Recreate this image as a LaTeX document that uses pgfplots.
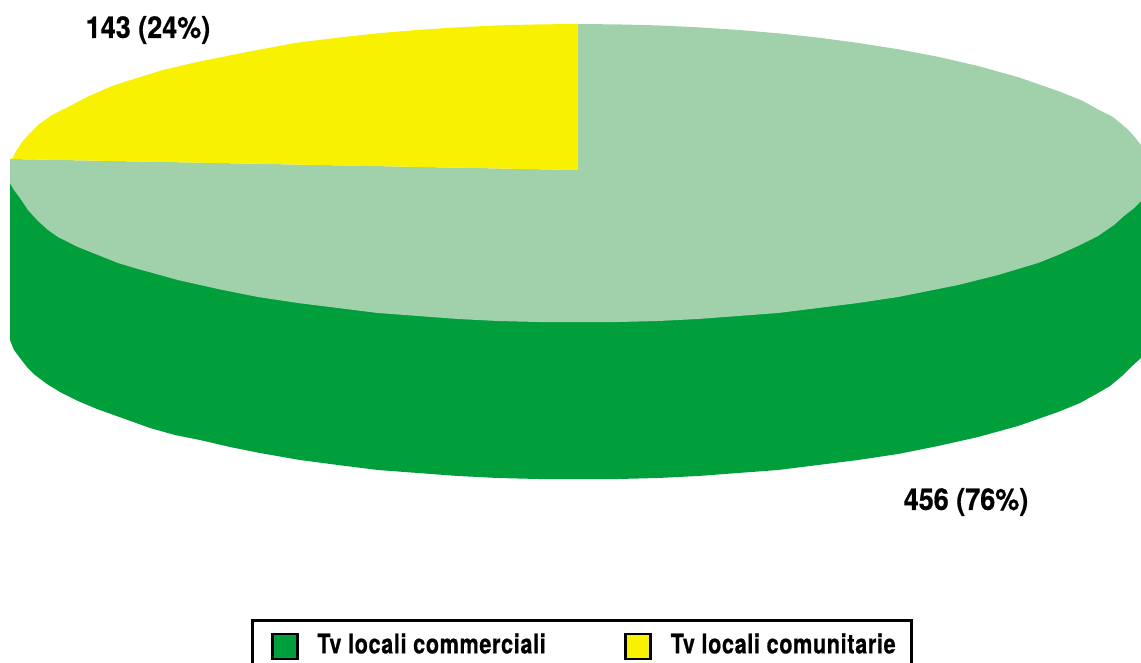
\documentclass[border=0pt]{standalone}
\usepackage{pgfplots}
\pgfplotsset{compat=1.18}
\usepackage{fontspec}
\setmainfont{TeX Gyre Heros}[BoldFeatures={FakeStretch=0.80,LetterSpace=2.4,FakeBold=0.6}]
\newfontfamily\labelfont{TeX Gyre Heros Bold}[FakeStretch=0.90,FakeBold=0.6]
\definecolor{gdark}{RGB}{0,159,60}
\definecolor{glight}{RGB}{160,209,171}
\definecolor{yel}{RGB}{248,242,0}
\begin{document}
\begin{tikzpicture}
\useasboundingbox (0,0) rectangle (1141pt,662pt);
\begin{axis}[
  at={(0,0)}, anchor=south west,
  scale only axis, width=1141pt, height=662pt,
  xmin=0, xmax=1141, ymin=0, ymax=662, y dir=reverse,
  hide axis, clip=true,
  legend columns=2,
  legend cell align=left,
  legend image code/.code={\draw[#1,draw=black,line width=2.8pt] (0pt,-15pt) rectangle (25pt,10pt); \path (-6pt,0pt) (43pt,0pt);},
  legend style={
    at={(0.22,0.065)}, anchor=north west,
    draw=black, line width=2.6pt,
    font=\fontsize{27}{30}\selectfont\bfseries,
    inner xsep=14pt, inner ysep=11pt,
    /tikz/every odd column/.append style={column sep=0pt},
    /tikz/every even column/.append style={column sep=72pt},
    nodes={inner xsep=2pt}
  },
]
\addplot[draw=none, fill=gdark] coordinates {
(10,183)(10,340)(14,350)(20,358)(27,367)(35,375)(47,384)(60,392)(78,401)(97,409)(125,419)(150,428)(175,435)(200,440)(230,447)(260,453)(300,460)(338,465)(378,470)(418,473)(458,476)(498,478)(538,479)(578,479)(618,479)(658,478)(698,476)(738,473)(778,470)(818,465)(858,460)(898,454)(938,446)(978,437)(1018,426)(1038,419)(1058,412)(1080,403)(1098,393)(1110,386)(1122,376)(1131,367)(1141,358)(1141,201)(578,200)(10,183)};
\addlegendentry{Tv locali commerciali}
\addplot[draw=none, fill=glight, forget plot] coordinates {
(578,170)(578,24)(618,24.4)(658,25.4)(698,27.3)(738,29.9)(778,33.3)(818,37.6)(858,42.9)(898,49.2)(938,56.8)(978,66)(1018,77.1)(1058,91)(1083,101)(1098,109.4)(1113,117)(1125,127)(1133,135)(1141,145)(1141,201)(1133,209)(1124,216)(1114,225)(1098,236)(1078,246)(1058,255)(1038,263)(1018,269)(998,275)(978,280)(958,285)(938,289)(898,297)(858,303)(818,308)(778,313)(738,316)(698,319)(658,321)(618,322)(578,322)(538,322)(498,321)(458,319)(418,316)(378,313)(338,308)(298,303)(258,297)(218,289)(178,280)(138,269)(118,263)(98,255)(78,247)(58,237)(48,230)(38,221)(28,210)(20,198)(14,190)(10,183)(10,159)(578,170)};
\addplot[draw=none, fill=yel] coordinates {
(578,170)(10,159)(13,158)(15,153)(22,142)(30,133)(38,125)(52,115)(68,107)(87,97)(112,86)(137,78)(163,70)(197,62)(222,57)(247,52)(295,43)(338,37.6)(378,33.3)(418,29.9)(458,27.3)(498,25.4)(538,24.4)(578,24)(578,170)};
\addlegendentry{Tv locali comunitarie}
\node[font=\fontsize{30}{33}\selectfont\labelfont, anchor=center, inner sep=0pt] at (axis cs:148,30) {143 (24\%)};
\node[font=\fontsize{30}{33}\selectfont\labelfont, anchor=center, inner sep=0pt] at (axis cs:966,502) {456 (76\%)};
\end{axis}
\end{tikzpicture}
\end{document}
